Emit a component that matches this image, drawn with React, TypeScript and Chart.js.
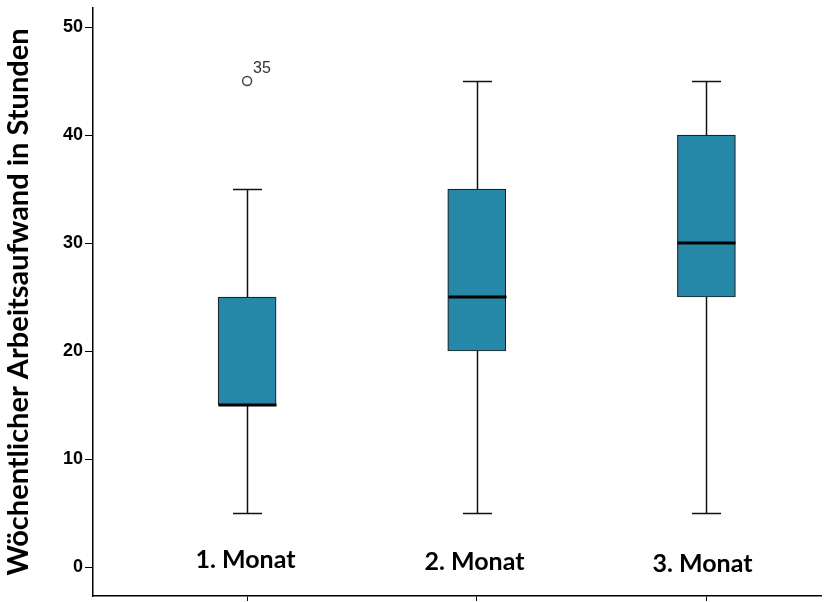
import React, { useEffect, useRef } from "react";
import { Chart, registerables } from "chart.js";

Chart.register(...registerables);

// Weekly workload per month (hours): five-number summaries per group
const categories = ["1. Monat", "2. Monat", "3. Monat"];
const whiskerLow = [5, 5, 5];
const quartile1 = [15, 20, 25];
const medians = [15, 25, 30];
const quartile3 = [25, 35, 40];
const whiskerHigh = [35, 45, 45];

// Outliers: group position (1-based), value, case label
const outlierGroups = [1];
const outlierValues = [45];
const outlierLabels = ["35"];

const yTickValues = [0, 10, 20, 30, 40, 50];
const axisTitle = "Wöchentlicher Arbeitsaufwand in Stunden";

const BOX_COLOR = "#2688a9";
const BOX_WIDTH = 58;
const CAP_WIDTH = 29;

const boxPlotPlugin = {
  id: "boxPlotParts",
  beforeDatasetsDraw(chart: any) {
    const { ctx, scales } = chart;
    const x = scales.x;
    const y = scales.y;
    ctx.save();
    ctx.strokeStyle = "#111";
    ctx.lineWidth = 1.5;
    categories.forEach((_, i) => {
      const px = Math.round(x.getPixelForValue(i + 1)) + 0.5;
      ctx.beginPath();
      ctx.moveTo(px, y.getPixelForValue(whiskerLow[i]));
      ctx.lineTo(px, y.getPixelForValue(whiskerHigh[i]));
      ctx.stroke();
    });
    ctx.restore();
  },
  afterDatasetsDraw(chart: any) {
    const { ctx, scales } = chart;
    const x = scales.x;
    const y = scales.y;
    ctx.save();
    categories.forEach((label, i) => {
      const px = Math.round(x.getPixelForValue(i + 1)) + 0.5;
      // whisker caps
      ctx.strokeStyle = "#111";
      ctx.lineWidth = 1.5;
      [whiskerLow[i], whiskerHigh[i]].forEach((v) => {
        const py = Math.round(y.getPixelForValue(v)) + 0.5;
        ctx.beginPath();
        ctx.moveTo(px - CAP_WIDTH / 2, py);
        ctx.lineTo(px + CAP_WIDTH / 2, py);
        ctx.stroke();
      });
      // median
      const my = y.getPixelForValue(medians[i]);
      ctx.strokeStyle = "#000";
      ctx.lineWidth = 3;
      ctx.beginPath();
      ctx.moveTo(px - BOX_WIDTH / 2, my);
      ctx.lineTo(px + BOX_WIDTH / 2, my);
      ctx.stroke();
      // group label inside the plot area
      ctx.fillStyle = "#000";
      ctx.font = "bold 25px Lato";
      ctx.textAlign = "center";
      ctx.textBaseline = "alphabetic";
      ctx.fillText(label, px - 2 - i * 1, y.getPixelForValue(0) + 1 + i * 2);
    });
    // outlier case labels
    ctx.fillStyle = "#333";
    ctx.font = "16px 'Liberation Sans'";
    ctx.textAlign = "left";
    ctx.textBaseline = "alphabetic";
    outlierGroups.forEach((g, i) => {
      const px = x.getPixelForValue(g);
      const py = y.getPixelForValue(outlierValues[i]);
      ctx.fillText(outlierLabels[i], px + 6, py - 8);
    });
    ctx.restore();
  },
};

export default function App() {
  const canvasRef = useRef<HTMLCanvasElement | null>(null);

  useEffect(() => {
    if (!canvasRef.current) return;
    const chart = new Chart(canvasRef.current, {
      type: "bar",
      data: {
        datasets: [
          {
            type: "bar",
            data: categories.map((_, i) => ({ x: i + 1, y: [quartile1[i], quartile3[i]] })) as any,
            backgroundColor: BOX_COLOR,
            borderColor: "#222",
            borderWidth: 1.2,
            borderSkipped: false,
            barThickness: BOX_WIDTH,
          } as any,
          {
            type: "scatter",
            data: outlierGroups.map((g, i) => ({ x: g, y: outlierValues[i] })),
            pointRadius: 4.5,
            pointBackgroundColor: "#fff",
            pointBorderColor: "#444",
            pointBorderWidth: 1.5,
          } as any,
        ],
      },
      options: {
        responsive: false,
        animation: false,
        layout: { padding: { top: 8, left: 0, right: 0, bottom: 0 } },
        plugins: { legend: { display: false }, tooltip: { enabled: false } },
        scales: {
          x: {
            type: "linear",
            offset: false,
            min: 0.329,
            max: 3.499,
            afterBuildTicks: (s: any) => {
              s.ticks = [1, 2, 3].map((v) => ({ value: v }));
            },
            afterFit: (s: any) => {
              s.height = 4;
            },
            ticks: { display: false },
            grid: { offset: false, drawOnChartArea: false, drawTicks: true, tickLength: 5, color: "#000" },
            border: { color: "#000", width: 1.5 },
          },
          y: {
            type: "linear",
            min: -2.68,
            max: 51.76,
            afterBuildTicks: (s: any) => {
              s.ticks = yTickValues.map((v) => ({ value: v }));
            },
            afterFit: (s: any) => {
              s.width = 93;
            },
            ticks: {
              color: "#000",
              padding: 2,
              font: { family: "'Liberation Sans'", weight: "bold", size: 18, lineHeight: 0.1 },
            },
            grid: { drawOnChartArea: false, drawTicks: true, tickLength: 8, color: "#000" },
            border: { color: "#000", width: 1.5 },
            title: {
              display: true,
              text: axisTitle,
              color: "#000",
              font: { family: "Lato", weight: "bold", size: 29 },
              padding: { top: 1, bottom: 0 },
            },
          },
        },
      },
      plugins: [boxPlotPlugin],
    });
    return () => chart.destroy();
  }, []);

  return (
    <div style={{ position: "absolute", left: 0, top: 0, width: 827, height: 602, background: "#fff" }}>
      <canvas ref={canvasRef} width={827} height={602} style={{ width: 827, height: 602 }} />
    </div>
  );
}
